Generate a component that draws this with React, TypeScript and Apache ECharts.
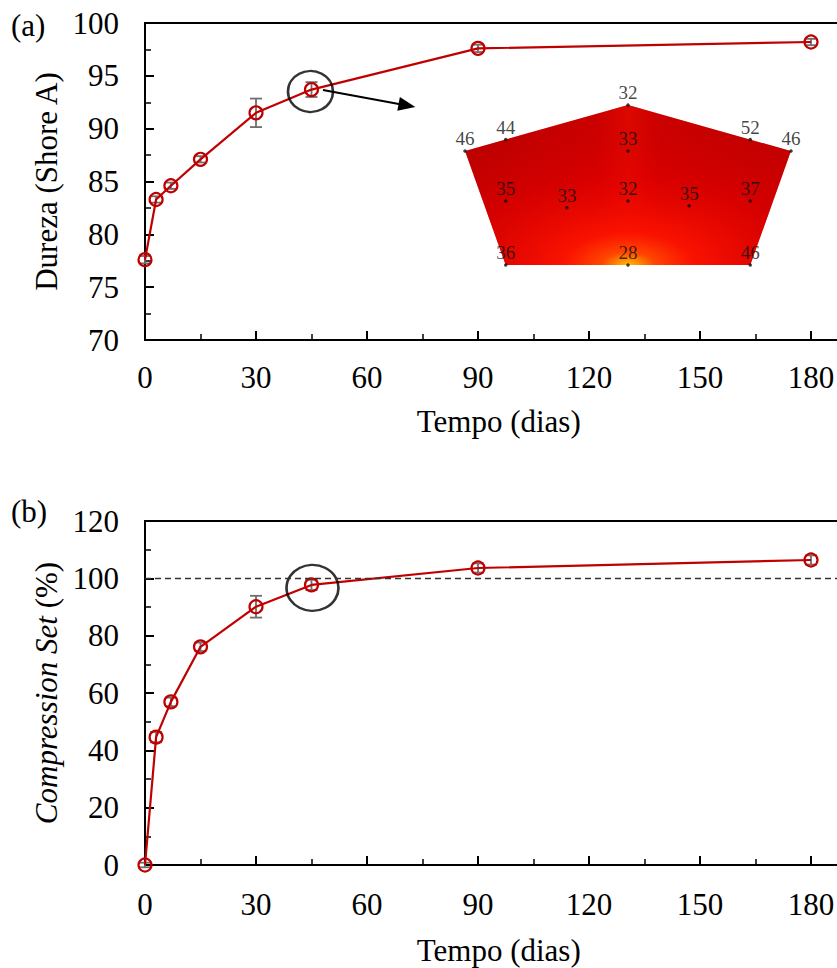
import React, { useEffect, useRef } from "react";
import * as echarts from "echarts";

const xDays = [0, 3, 7, 15, 30, 45, 90, 180];
const hardness = [77.6, 83.3, 84.6, 87.1, 91.5, 93.7, 97.6, 98.2];
const hardnessErr = [0.35, 0.3, 0.3, 0.3, 1.35, 0.7, 0.35, 0.3];
const compSet = [0, 44.6, 56.9, 76.1, 90.1, 97.7, 103.6, 106.4];
const compSetErr = [0.8, 1.8, 1.5, 1.5, 3.8, 1.8, 1.6, 1.6];

const xTicks = { min: 0, max: 195, interval: 30 };
const yTicksA = { min: 70, max: 100, interval: 5 };
const yTicksB = { min: 0, max: 120, interval: 20 };

// inset (pentagon hardness map)
const insetPentX = [0, 4, 8, 7, 1];
const insetPentY = [2.85, 4, 2.85, 0, 0];
const insetPtX = [0, 1, 4, 7, 8, 4, 1, 2.5, 4, 5.5, 7, 1, 4, 7];
const insetPtY = [2.85, 3.14, 4, 3.14, 2.85, 2.85, 1.6, 1.43, 1.6, 1.48, 1.6, 0, 0, 0];
const insetVals = [46, 44, 32, 52, 46, 33, 35, 33, 32, 35, 37, 36, 28, 46];

const FONT = "Liberation Serif, Times New Roman, serif";
const FS = 31;
const RED = "#c00000";

function xAxisCfg(gridIndex: number, name: string, gap: number, labelMargin: number) {
  return {
    type: "value",
    gridIndex,
    min: xTicks.min,
    max: xTicks.max,
    interval: xTicks.interval,
    name,
    nameLocation: "middle",
    nameGap: gap,
    nameTextStyle: { fontSize: FS, fontFamily: FONT, color: "#000", padding: [0, 14, 0, 0] },
    axisLine: { show: true, onZero: false, lineStyle: { color: "#000", width: 2 } },
    axisTick: { show: true, inside: true, length: 9, lineStyle: { color: "#000", width: 2 } },
    minorTick: { show: true, splitNumber: 2, length: 6, lineStyle: { color: "#000", width: 1.5 } },
    splitLine: { show: false },
    axisLabel: {
      fontSize: FS,
      fontFamily: FONT,
      color: "#000",
      margin: labelMargin,
      showMaxLabel: false,
      formatter: (v: number) => (v % 30 === 0 && v <= 180 ? String(v) : ""),
    },
  };
}

function yAxisCfg(gridIndex: number, t: { min: number; max: number; interval: number }, name: string, rich?: any) {
  return {
    type: "value",
    gridIndex,
    min: t.min,
    max: t.max,
    interval: t.interval,
    name,
    nameLocation: "middle",
    nameGap: 82,
    nameTextStyle: { fontSize: FS, fontFamily: FONT, color: "#000", rich },
    axisLine: { show: true, onZero: false, lineStyle: { color: "#000", width: 2 } },
    axisTick: { show: true, inside: true, length: 9, lineStyle: { color: "#000", width: 2 } },
    minorTick: { show: true, splitNumber: 2, length: 6, lineStyle: { color: "#000", width: 1.5 } },
    splitLine: { show: false },
    axisLabel: { fontSize: FS, fontFamily: FONT, color: "#000", margin: 26 },
  };
}

function errorBarRender(params: any, api: any) {
  const x = api.value(0);
  const y = api.value(1);
  const e = api.value(2);
  const top = api.coord([x, y + e]);
  const bot = api.coord([x, y - e]);
  const w = 6;
  const style = { stroke: "#6e6e6e", lineWidth: 1.8 };
  return {
    type: "group",
    children: [
      { type: "line", shape: { x1: top[0], y1: top[1], x2: bot[0], y2: bot[1] }, style },
      { type: "line", shape: { x1: top[0] - w, y1: top[1], x2: top[0] + w, y2: top[1] }, style },
      { type: "line", shape: { x1: bot[0] - w, y1: bot[1], x2: bot[0] + w, y2: bot[1] }, style },
    ],
  };
}

function pentagonRender(params: any, api: any) {
  if (params.dataIndex !== 0) return null;
  const pts = insetPentX.map((x, i) => api.coord([x, insetPentY[i]]));
  return {
    type: "group",
    children: [
      { type: "polygon", shape: { points: pts }, style: { fill: "#c10000" } },
      {
        type: "polygon",
        shape: { points: pts },
        style: {
          fill: new echarts.graphic.LinearGradient(0, 0, 1, 0, [
            { offset: 0, color: "rgba(150,0,0,0.15)" },
            { offset: 0.4, color: "rgba(230,0,0,0.25)" },
            { offset: 0.5, color: "rgba(240,15,0,0.6)" },
            { offset: 0.6, color: "rgba(230,0,0,0.25)" },
            { offset: 1, color: "rgba(200,0,0,0)" },
          ]),
        },
      },
      {
        type: "polygon",
        shape: { points: pts },
        style: {
          fill: new echarts.graphic.RadialGradient(0.5, 1, 1.0, [
            { offset: 0, color: "rgba(255,190,0,1)" },
            { offset: 0.08, color: "rgba(255,70,0,1)" },
            { offset: 0.2, color: "rgba(255,20,0,0.9)" },
            { offset: 0.55, color: "rgba(235,0,0,0.45)" },
            { offset: 1, color: "rgba(200,0,0,0)" },
          ]),
        },
      },
    ],
  };
}

export default function App() {
  const ref = useRef<HTMLDivElement>(null);

  useEffect(() => {
    if (!ref.current) return;
    const chart = echarts.init(ref.current, undefined, { renderer: "svg" });

    const lineA = xDays.map((x, i) => [x, hardness[i]]);
    const errA = xDays.map((x, i) => [x, hardness[i], hardnessErr[i]]);
    const lineB = xDays.map((x, i) => [x, compSet[i]]);
    const errB = xDays.map((x, i) => [x, compSet[i], compSetErr[i]]);
    const insetPts = insetPtX.map((x, i) => [x, insetPtY[i], insetVals[i]]);
    const pentData = insetPentX.map((x, i) => [x, insetPentY[i]]);

    const lineStyleCommon = {
      type: "line",
      symbol: "circle",
      symbolSize: 13,
      clip: false,
      z: 3,
      itemStyle: { color: "rgba(255,255,255,0)", borderColor: RED, borderWidth: 2.2 },
      lineStyle: { color: RED, width: 2.2 },
    };

    chart.setOption({
      animation: false,
      backgroundColor: "#fff",
      title: [
        { text: "(a)", left: 11, top: 10, padding: 0, textStyle: { fontSize: FS, fontFamily: FONT, fontWeight: "normal", color: "#000" } },
        { text: "(b)", left: 11, top: 496, padding: 0, textStyle: { fontSize: FS, fontFamily: FONT, fontWeight: "normal", color: "#000" } },
      ],
      grid: [
        { left: 145, top: 23, height: 317, width: 721.5, outerBoundsMode: "none", containLabel: false, show: true, borderColor: "#000", borderWidth: 2, backgroundColor: "transparent" },
        { left: 145, top: 521, height: 344, width: 721.5, outerBoundsMode: "none", containLabel: false, show: true, borderColor: "#000", borderWidth: 2, backgroundColor: "transparent" },
        { left: 465, top: 105, width: 326, height: 160, outerBoundsMode: "none", show: false },
      ],
      xAxis: [
        xAxisCfg(0, "Tempo (dias)", 66, 22),
        xAxisCfg(1, "Tempo (dias)", 70, 24),
        { type: "value", gridIndex: 2, min: 0, max: 8, show: false },
      ],
      yAxis: [
        yAxisCfg(0, yTicksA, "Dureza (Shore A)"),
        yAxisCfg(1, yTicksB, "{i|Compression Set} (%)", {
          i: { fontStyle: "italic", fontSize: FS, fontFamily: FONT, color: "#000" },
        }),
        { type: "value", gridIndex: 2, min: 0, max: 4, show: false },
      ],
      series: [
        {
          type: "custom",
          xAxisIndex: 0,
          yAxisIndex: 0,
          renderItem: errorBarRender,
          encode: { x: 0, y: 1 },
          data: errA,
          z: 2,
          clip: false,
        },
        { ...lineStyleCommon, xAxisIndex: 0, yAxisIndex: 0, data: lineA },
        {
          type: "scatter",
          xAxisIndex: 0,
          yAxisIndex: 0,
          symbol: "circle",
          symbolSize: [45, 41],
          symbolOffset: [-1, 2],
          itemStyle: { color: "rgba(0,0,0,0)", borderColor: "#000", borderWidth: 2.5 },
          z: 4,
          silent: true,
          data: [[xDays[5], hardness[5]]],
          markLine: {
            silent: true,
            animation: false,
            symbol: ["none", "triangle"],
            symbolSize: [14, 17],
            label: { show: false },
            lineStyle: { color: "#000", width: 2, type: "solid" },
            data: [[{ coord: [48.1, 93.66] }, { coord: [70.8, 92.2] }]],
          },
        },
        {
          type: "custom",
          xAxisIndex: 1,
          yAxisIndex: 1,
          renderItem: errorBarRender,
          encode: { x: 0, y: 1 },
          data: errB,
          z: 2,
          clip: false,
        },
        {
          ...lineStyleCommon,
          xAxisIndex: 1,
          yAxisIndex: 1,
          data: lineB,
          markLine: {
            silent: true,
            animation: false,
            symbol: ["none", "none"],
            label: { show: false },
            lineStyle: { color: "#333", width: 1.3, type: [6, 4] },
            data: [{ yAxis: 100 }],
          },
        },
        {
          type: "scatter",
          xAxisIndex: 1,
          yAxisIndex: 1,
          symbol: "circle",
          symbolSize: [52, 46],
          symbolOffset: [1, 3],
          itemStyle: { color: "rgba(0,0,0,0)", borderColor: "#000", borderWidth: 2.5 },
          z: 4,
          silent: true,
          data: [[xDays[5], compSet[5]]],
        },
        {
          type: "custom",
          xAxisIndex: 2,
          yAxisIndex: 2,
          renderItem: pentagonRender,
          encode: { x: 0, y: 1 },
          data: pentData,
          z: 5,
          clip: false,
          silent: true,
        },
        {
          type: "scatter",
          xAxisIndex: 2,
          yAxisIndex: 2,
          symbol: "circle",
          symbolSize: 3.5,
          itemStyle: { color: "#111" },
          z: 6,
          silent: true,
          data: insetPts,
          label: {
            show: true,
            position: "top",
            distance: 1,
            fontSize: 19,
            fontFamily: FONT,
            color: "#111",
            formatter: (p: any) => String(p.value[2]),
          },
        },
      ],
    });

    return () => chart.dispose();
  }, []);

  return (
    <div
      ref={ref}
      style={{ position: "absolute", left: 0, top: 0, width: 837, height: 968 }}
    />
  );
}
